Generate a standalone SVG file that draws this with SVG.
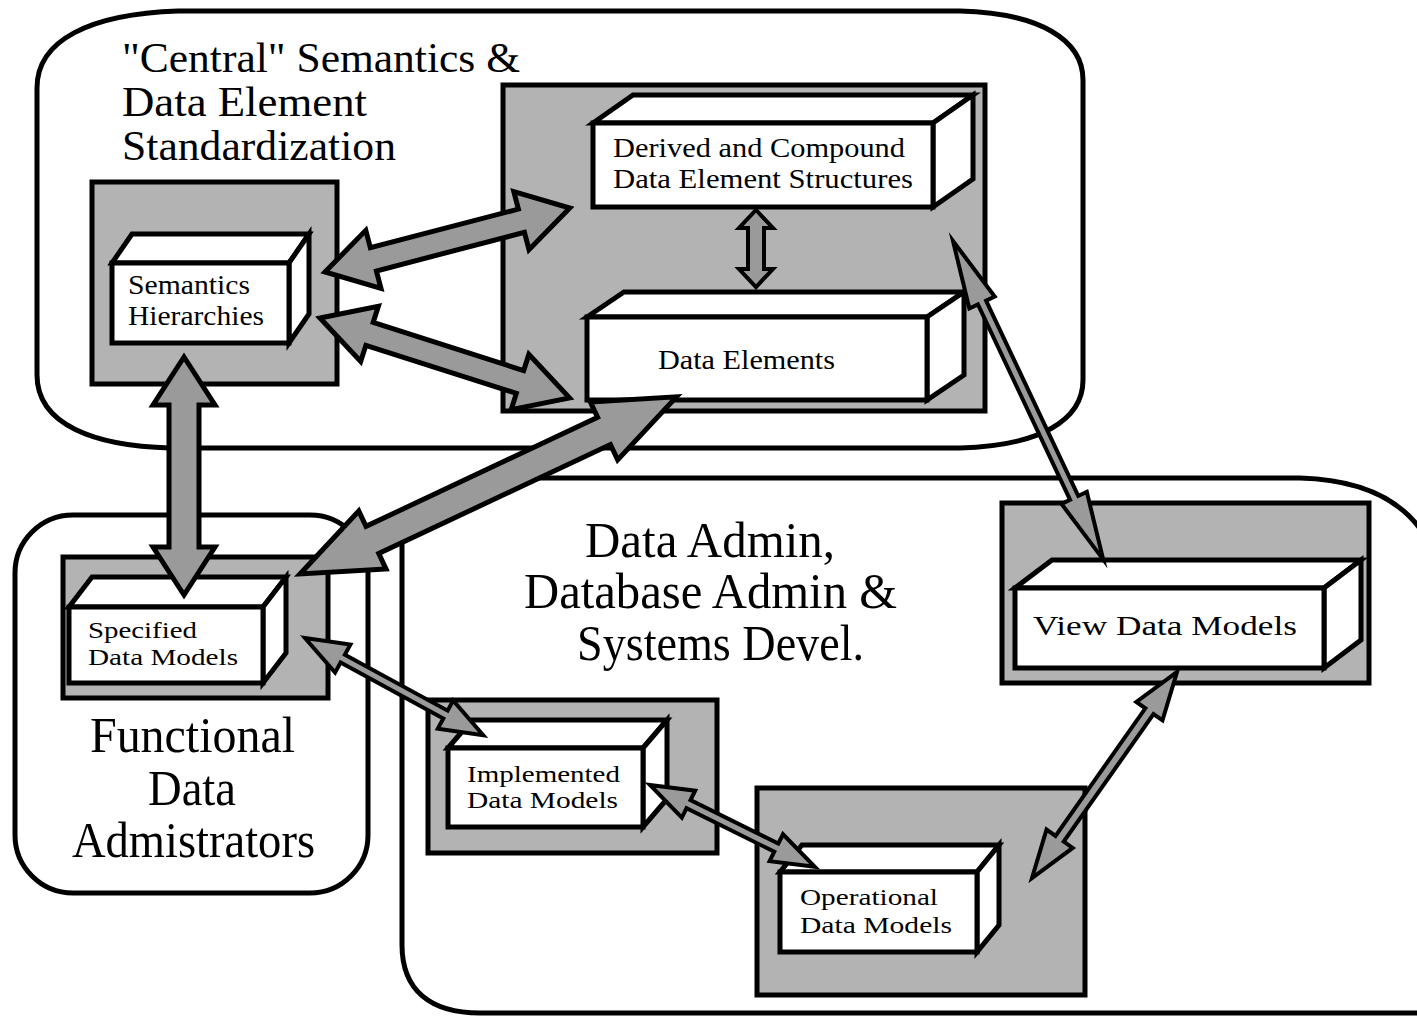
<svg xmlns="http://www.w3.org/2000/svg" width="1417" height="1018" viewBox="0 0 1417 1018">
<style>
.region{fill:#fff;stroke:#000;stroke-width:5}
.cont{fill:#b3b3b3;stroke:#000;stroke-width:5}
.box{fill:#fff;stroke:#000;stroke-width:5;stroke-linejoin:miter}
.arrow{fill:#9a9a9a;stroke:#000;stroke-width:5;stroke-linejoin:miter;stroke-miterlimit:10}
.thin{stroke-width:4}
text{font-family:"Liberation Serif","Times New Roman",serif;fill:#000}
.big{font-size:50px}
.title{font-size:42px}
.lbl{font-size:27px}
.sm{font-size:24px}
</style>
<rect x="0" y="0" width="1417" height="1018" fill="#fff"/>

<g id="region-central">
<path class="region" d="M37,375 L37,88 C37,40 90,14 178,11 L960,11 C1040,13 1083,40 1083,80 L1083,380 C1083,420 1040,446 960,448 L170,448 C95,446 37,425 37,375 Z"/>
<text class="title" x="122" y="72" textLength="398" lengthAdjust="spacingAndGlyphs">"Central" Semantics &amp;</text>
<text class="title" x="122" y="116" textLength="245" lengthAdjust="spacingAndGlyphs">Data Element</text>
<text class="title" x="122" y="160" textLength="274" lengthAdjust="spacingAndGlyphs">Standardization</text>
</g>

<g id="region-functional">
<rect class="region" x="15" y="515" width="353" height="378" rx="58" ry="58"/>
<text class="big" x="90" y="752" textLength="205" lengthAdjust="spacingAndGlyphs">Functional</text>
<text class="big" x="148" y="805" textLength="88" lengthAdjust="spacingAndGlyphs">Data</text>
<text class="big" x="72" y="857" textLength="243" lengthAdjust="spacingAndGlyphs">Admistrators</text>
</g>

<g id="region-dataadmin">
<path class="region" d="M402,945 L402,545 C402,505 450,480 540,478 L1300,478 C1370,480 1410,505 1430,545 L1430,1013 L480,1013 C430,1013 402,990 402,945 Z"/>
<text class="big" x="585" y="557" textLength="250" lengthAdjust="spacingAndGlyphs">Data Admin,</text>
<text class="big" x="524" y="608" textLength="373" lengthAdjust="spacingAndGlyphs">Database Admin &amp;</text>
<text class="big" x="577" y="660" textLength="287" lengthAdjust="spacingAndGlyphs">Systems Devel.</text>
</g>

<g id="node-semantics">
<rect class="cont" x="92" y="182" width="245" height="202"/>
<polygon class="box" points="112,263 132,234 309,234 289,263"/>
<polygon class="box" points="289,263 309,234 309,314 289,343"/>
<rect class="box" x="112" y="263" width="177" height="80"/>
<text class="lbl" x="128" y="294" textLength="122" lengthAdjust="spacingAndGlyphs">Semantics</text>
<text class="lbl" x="128" y="325" textLength="136" lengthAdjust="spacingAndGlyphs">Hierarchies</text>
</g>

<g id="node-dataelements-group">
<rect class="cont" x="503" y="85" width="482" height="326"/>
</g>

<g id="node-derived">
<polygon class="box" points="593,123 633,95 973,95 933,123"/>
<polygon class="box" points="933,123 973,95 973,179 933,207"/>
<rect class="box" x="593" y="123" width="340" height="84"/>
<text class="lbl" x="613" y="157" font-size="28" textLength="292" lengthAdjust="spacingAndGlyphs">Derived and Compound</text>
<text class="lbl" x="613" y="188" font-size="28" textLength="300" lengthAdjust="spacingAndGlyphs">Data Element Structures</text>
</g>

<g id="node-dataelements">
<polygon class="box" points="587,317 624,292 964,292 927,317"/>
<polygon class="box" points="927,317 964,292 964,375 927,400"/>
<rect class="box" x="587" y="317" width="340" height="83"/>
<text class="lbl" x="658" y="369" font-size="28" textLength="177" lengthAdjust="spacingAndGlyphs">Data Elements</text>
</g>

<g id="node-specified">
<rect class="cont" x="63" y="557" width="265" height="141"/>
<polygon class="box" points="69,607 92,577 286,577 263,607"/>
<polygon class="box" points="263,607 286,577 286,653 263,683"/>
<rect class="box" x="69" y="607" width="194" height="76"/>
<text class="sm" x="88" y="638" textLength="109" lengthAdjust="spacingAndGlyphs">Specified</text>
<text class="sm" x="88" y="665" textLength="150" lengthAdjust="spacingAndGlyphs">Data Models</text>
</g>

<g id="node-implemented">
<rect class="cont" x="428" y="700" width="289" height="153"/>
<polygon class="box" points="448,748 472,720 667,720 643,748"/>
<polygon class="box" points="643,748 667,720 667,799 643,827"/>
<rect class="box" x="448" y="748" width="195" height="79"/>
<text class="sm" x="467" y="782" textLength="153" lengthAdjust="spacingAndGlyphs">Implemented</text>
<text class="sm" x="467" y="808" textLength="151" lengthAdjust="spacingAndGlyphs">Data Models</text>
</g>

<g id="node-operational">
<rect class="cont" x="757" y="788" width="328" height="207"/>
<polygon class="box" points="780,872 802,845 999,845 977,872"/>
<polygon class="box" points="977,872 999,845 999,925 977,952"/>
<rect class="box" x="780" y="872" width="197" height="80"/>
<text class="sm" x="800" y="905" font-size="25" textLength="138" lengthAdjust="spacingAndGlyphs">Operational</text>
<text class="sm" x="800" y="933" font-size="25" textLength="152" lengthAdjust="spacingAndGlyphs">Data Models</text>
</g>

<g id="node-view">
<rect class="cont" x="1002" y="503" width="367" height="180"/>
<polygon class="box" points="1015,588 1052,560 1361,560 1324,588"/>
<polygon class="box" points="1324,588 1361,560 1361,640 1324,668"/>
<rect class="box" x="1015" y="588" width="309" height="80"/>
<text class="lbl" x="1033" y="635" font-size="28" textLength="264" lengthAdjust="spacingAndGlyphs">View Data Models</text>
</g>

<g id="connectors">
<polygon class="arrow" transform="translate(325,272) rotate(-14.64)" points="0,0 50,-30 50,-12 203,-12 203,-30 253,0 203,30 203,12 50,12 50,30"/>
<polygon class="arrow" transform="translate(320,318) rotate(17.74)" points="0,0 52,-29 52,-12 210,-12 210,-29 262,0 210,29 210,12 52,12 52,29"/>
<polygon class="arrow" transform="translate(184,357) rotate(90)" points="0,0 48,-31 48,-15 190,-15 190,-31 238,0 190,31 190,15 48,15 48,31"/>
<polygon class="arrow" transform="translate(300,574) rotate(-25.2)" points="0,0 80,-32 80,-15 336,-15 336,-32 416,0 336,32 336,15 80,15 80,32"/>
<polygon class="arrow thin" transform="translate(756,210) rotate(90)" points="0,0 18,-17 18,-8 59,-8 59,-17 77,0 59,17 59,8 18,8 18,17"/>
<polygon class="arrow thin" transform="translate(953,241) rotate(64.75)" points="0,0 68,-14 68,-4.5 284,-4.5 284,-14 352,0 284,14 284,4.5 68,4.5 68,14"/>
<polygon class="arrow thin" transform="translate(305,638) rotate(28.6)" points="0,0 43,-16 43,-4.5 160,-4.5 160,-16 203,0 160,16 160,4.5 43,4.5 43,16"/>
<polygon class="arrow thin" transform="translate(650,785) rotate(26.4)" points="0,0 43,-15 43,-4.5 141,-4.5 141,-15 184,0 141,15 141,4.5 43,4.5 43,15"/>
<polygon class="arrow thin" transform="translate(1032,878) rotate(-54.86)" points="0,0 48,-16 48,-5 204,-5 204,-16 252,0 204,16 204,5 48,5 48,16"/>
</g>
</svg>
